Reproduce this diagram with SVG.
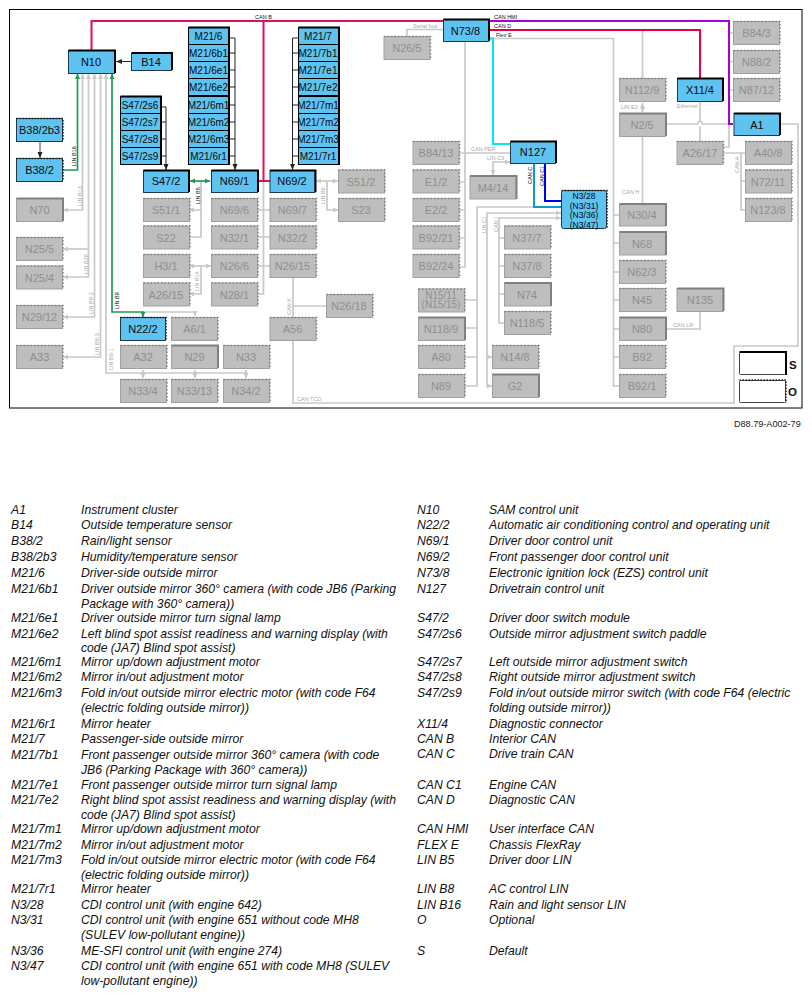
<svg xmlns="http://www.w3.org/2000/svg" width="812" height="996" viewBox="0 0 812 996">
<style>
text{font-family:"Liberation Sans",Arial,sans-serif}
.node text{font-size:11px;text-anchor:middle}
.node path{fill:none}
.b rect{fill:#5fc3f1;stroke:#1d3a4a;stroke-width:1}
.b text{fill:#0a0a0a}
.g rect{fill:#bebebe;stroke:#a0a0a0;stroke-width:1}
.g text{fill:#8e8e8e}
.b.s path{stroke:#000;stroke-width:2}
.b.o path{stroke:#222;stroke-width:1.6;stroke-dasharray:1.5 1.5}
.g.s path{stroke:#808080;stroke-width:2}
.g.o path{stroke:#858585;stroke-width:1.5;stroke-dasharray:1.5 2}
.node.m text{font-size:10px}
.node.n text{font-size:8.6px}
.b.m rect{stroke:#000}
.c{fill:none;stroke:#c9c9c9;stroke-width:1.7}
.k{fill:none;stroke:#222;stroke-width:1}
.lg{fill:none;stroke:#1f9a55;stroke-width:1.7}
.bus{fill:none;stroke-width:2}
.l{font-size:5.5px;fill:#a8a8a8}
.lb{font-size:5.5px;fill:#111}
.t{font-size:12.2px;font-style:italic;fill:#111}
</style>
<defs>
<marker id="ag" markerUnits="userSpaceOnUse" markerWidth="6" markerHeight="6" refX="5" refY="3" orient="auto-start-reverse"><path d="M0 .5L5 3L0 5.5z" fill="#c9c9c9"/></marker>
<marker id="ak" markerUnits="userSpaceOnUse" markerWidth="7" markerHeight="6" refX="6" refY="3" orient="auto-start-reverse"><path d="M0 .5L6 3L0 5.5z" fill="#222"/></marker>
<marker id="ae" markerUnits="userSpaceOnUse" markerWidth="6" markerHeight="6" refX="5" refY="3" orient="auto-start-reverse"><path d="M0 .5L5 3L0 5.5z" fill="#1f9a55"/></marker>
</defs>
<rect x="9.5" y="9.5" width="792.5" height="398.5" fill="#fff" stroke="#000" stroke-width="1"/>
<g id="connectors">
<g class="c">
<path d="M407 36V29.5H443"/>
<path d="M465 42V267H459M459 153H510M459 182H465M459 210H465M459 238H465"/>
<path d="M510 162H493V175" marker-start="url(#ag)" marker-end="url(#ag)"/>
<path d="M561 207H477V386H465M465 300H477M465 328H477M465 357H477"/>
<path d="M561 213H487V386H492" marker-start="url(#ag)" marker-end="url(#ag)"/>
<path d="M487 357H492" marker-end="url(#ag)"/>
<path d="M561 218H499V323H504M499 238H504M499 266H504M499 294H504" marker-start="url(#ag)"/>
<path d="M489 38.500H613.500V386H619M613.500 215H619M613.500 243H619M613.500 272H619M613.500 300H619M613.500 329H619M613.500 357H619"/>
<path d="M642.500 30V78M642.500 136V204"/>
<path d="M642.500 103V112" marker-start="url(#ag)" marker-end="url(#ag)"/>
<path d="M665 124H697.500A2.500 2.500 0 0 1 702.500 124H733"/>
<path d="M700 102V121.500M700 126.500V141"/>
<path d="M729 124V147H723M729 33H733M729 61.500H733M729 90H733"/>
<path d="M723 153H745M741 153V210H745M741 181H745"/>
<path d="M780 124H798V346H734V403H293V340M293 278V317M293 306H326"/>
<path d="M665 329H700V312"/>
<path d="M263.500 181V294H258M258 210H270M258 237H270M258 266H270"/>
<path d="M201 181V237H189M201 210H189" marker-end="url(#ag)"/>
<path d="M189 266H211" marker-start="url(#ag)" marker-end="url(#ag)"/>
<path d="M201 266V294H189" marker-end="url(#ag)"/>
<path d="M316 181H338" marker-start="url(#ag)" marker-end="url(#ag)"/>
<path d="M327 181V210H338" marker-end="url(#ag)"/>
<path d="M82.500 74V210H63" marker-start="url(#ag)" marker-end="url(#ag)"/>
<path d="M88.500 74V277H63" marker-start="url(#ag)" marker-end="url(#ag)"/>
<path d="M88.500 249H63" marker-end="url(#ag)"/>
<path d="M94.500 74V317H63" marker-start="url(#ag)" marker-end="url(#ag)"/>
<path d="M100.500 74V357H63" marker-start="url(#ag)" marker-end="url(#ag)"/>
<path d="M106 74V373H246" marker-start="url(#ag)"/>
<path d="M143 370V378" marker-start="url(#ag)" marker-end="url(#ag)"/>
<path d="M195 370V378" marker-start="url(#ag)" marker-end="url(#ag)"/>
<path d="M246 370V378" marker-start="url(#ag)" marker-end="url(#ag)"/>
<path d="M143 312H195V316" marker-end="url(#ag)"/>
</g>
<path class="bus" d="M91.500 50V21H443M263.500 21V181M258 181H270" stroke="#e2105c"/>
<path class="bus" d="M489 21H729V124H733" stroke="#a200dc"/>
<path class="bus" d="M489 30H700V78" stroke="#e8003f"/>
<path class="bus" d="M489 38.500H493V144H510" stroke="#00e6ee"/>
<path class="bus" d="M534 164V207H561" stroke="#0a9bc8"/>
<path class="bus" d="M545 164V201H561" stroke="#0000f0"/>
<path class="lg" d="M63 170H77.500V74" marker-end="url(#ae)"/>
<path class="lg" d="M112 74V312H143V317" marker-start="url(#ae)" marker-end="url(#ae)"/>
<path class="lg" d="M190 181H210" marker-start="url(#ae)" marker-end="url(#ae)"/>
<path class="k" d="M131 61.500H116" marker-end="url(#ak)"/>
<path d="M40 142V158" fill="none" stroke="#444" stroke-width="1" marker-end="url(#ak)"/>
<path class="k" d="M161 107H166V170" marker-end="url(#ak)"/>
<path class="k" d="M161 122H166M161 139H166M161 156H166"/>
<path class="k" d="M229 38H235V170" marker-end="url(#ak)"/>
<path class="k" d="M229 53H235M229 70H235M229 87H235M229 105H235M229 122H235M229 139H235M229 156H235"/>
<path class="k" d="M298 38H292.500V170" marker-end="url(#ak)"/>
<path class="k" d="M298 53H292.500M298 70H292.500M298 87H292.500M298 105H292.500M298 122H292.500M298 139H292.500M298 156H292.500"/>
<text class="lb" x="255" y="18.500">CAN B</text>
<text class="l" x="413" y="27.500">Serial bus</text>
<text class="lb" x="494" y="19">CAN HMI</text>
<text class="lb" x="494" y="28">CAN D</text>
<text class="lb" x="496" y="36.500">Flex E</text>
<text class="l" x="621" y="109">LIN E2</text>
<text class="l" x="677" y="108">Ethernet</text>
<text class="l" x="622" y="194">CAN H</text>
<text class="l" x="673" y="327">CAN LR</text>
<text class="l" x="297" y="400.500">CAN TCO</text>
<text class="l" x="471" y="151">CAN PER</text>
<text class="l" x="487" y="159.500">LIN C3</text>
<text class="lb" transform="rotate(-90 76 166)" x="76" y="166">LIN B16</text>
<text class="l" transform="rotate(-90 81.500 206)" x="81.500" y="206">LIN B13</text>
<text class="l" transform="rotate(-90 88 274)" x="88" y="274">LIN B28</text>
<text class="l" transform="rotate(-90 93 314)" x="93" y="314">LIN B8-2</text>
<text class="l" transform="rotate(-90 99 355)" x="99" y="355">LIN B8-3</text>
<text class="l" transform="rotate(-90 112.500 370)" x="112.500" y="370">LIN B8-1</text>
<text class="lb" transform="rotate(-90 119 309)" x="119" y="309">LIN B8</text>
<text class="lb" transform="rotate(-90 200 204)" x="200" y="204">LIN B5</text>
<text class="l" transform="rotate(-90 199 291)" x="199" y="291">LIN B14</text>
<text class="l" transform="rotate(-90 325 204)" x="325" y="204">LIN B6</text>
<text class="l" transform="rotate(-90 291 315)" x="291" y="315">CAN K</text>
<text class="lb" transform="rotate(-90 532 184)" x="532" y="184">CAN C</text>
<text class="lb" transform="rotate(-90 543.500 186)" x="543.500" y="186">CAN C1</text>
<text class="l" transform="rotate(-90 486 233)" x="486" y="233">LIN C1</text>
<text class="l" transform="rotate(-90 498 232)" x="498" y="232">CAN I</text>
<text class="l" transform="rotate(-90 739 173)" x="739" y="173">CAN A</text>
</g>
<g id="N10" class="node b s"><rect x="68.500" y="50.500" width="46" height="23"/><path d="M68.500 50.500H115V73"/><text x="91" y="66">N10</text></g>
<g id="B14" class="node b s"><rect x="131.500" y="53.500" width="40" height="17"/><path d="M131.500 53H172V70"/><text x="151" y="66">B14</text></g>
<g id="B38-2b3" class="node b o"><rect x="16.500" y="118.500" width="46" height="23"/><path d="M16.500 118.500H63V141"/><text x="39.500" y="134">B38/2b3</text></g>
<g id="B38-2" class="node b o"><rect x="16.500" y="158.500" width="46" height="23"/><path d="M16.500 158.500H63V181"/><text x="39.500" y="174">B38/2</text></g>
<g id="M21-6" class="node b s m"><rect x="188.500" y="27.500" width="40" height="17"/><path d="M188.500 27.500H229V44"/><text x="208.500" y="40">M21/6</text></g>
<g id="M21-6b1" class="node b s m"><rect x="188.500" y="44.500" width="40" height="17"/><path d="M229 44V61"/><text x="208.500" y="57">M21/6b1</text></g>
<g id="M21-6e1" class="node b s m"><rect x="188.500" y="61.500" width="40" height="17"/><path d="M229 61V79"/><text x="208.500" y="74">M21/6e1</text></g>
<g id="M21-6e2" class="node b s m"><rect x="188.500" y="78.500" width="40" height="17"/><path d="M229 79V96"/><text x="208.500" y="91">M21/6e2</text></g>
<g id="M21-6m1" class="node b s m"><rect x="188.500" y="96.500" width="40" height="17"/><path d="M229 96V113"/><text x="208.500" y="109">M21/6m1</text></g>
<g id="M21-6m2" class="node b s m"><rect x="188.500" y="113.500" width="40" height="17"/><path d="M229 113V131"/><text x="208.500" y="126">M21/6m2</text></g>
<g id="M21-6m3" class="node b s m"><rect x="188.500" y="130.500" width="40" height="17"/><path d="M229 131V148"/><text x="208.500" y="143">M21/6m3</text></g>
<g id="M21-6r1" class="node b s m"><rect x="188.500" y="147.500" width="40" height="17"/><path d="M229 148V165"/><text x="208.500" y="160">M21/6r1</text></g>
<g id="M21-7" class="node b s m"><rect x="298.500" y="27.500" width="40" height="17"/><path d="M298.500 27.500H339V44"/><text x="318" y="40">M21/7</text></g>
<g id="M21-7b1" class="node b s m"><rect x="298.500" y="44.500" width="40" height="17"/><path d="M339 44V61"/><text x="318" y="57">M21/7b1</text></g>
<g id="M21-7e1" class="node b s m"><rect x="298.500" y="61.500" width="40" height="17"/><path d="M339 61V79"/><text x="318" y="74">M21/7e1</text></g>
<g id="M21-7e2" class="node b s m"><rect x="298.500" y="78.500" width="40" height="17"/><path d="M339 79V96"/><text x="318" y="91">M21/7e2</text></g>
<g id="M21-7m1" class="node b s m"><rect x="298.500" y="96.500" width="40" height="17"/><path d="M339 96V113"/><text x="318" y="109">M21/7m1</text></g>
<g id="M21-7m2" class="node b s m"><rect x="298.500" y="113.500" width="40" height="17"/><path d="M339 113V131"/><text x="318" y="126">M21/7m2</text></g>
<g id="M21-7m3" class="node b s m"><rect x="298.500" y="130.500" width="40" height="17"/><path d="M339 131V148"/><text x="318" y="143">M21/7m3</text></g>
<g id="M21-7r1" class="node b s m"><rect x="298.500" y="147.500" width="40" height="17"/><path d="M339 148V165"/><text x="318" y="160">M21/7r1</text></g>
<g id="S47-2s6" class="node b s m"><rect x="120.500" y="96.500" width="40" height="17"/><path d="M120.500 96.500H161V113"/><text x="140" y="109">S47/2s6</text></g>
<g id="S47-2s7" class="node b s m"><rect x="120.500" y="113.500" width="40" height="17"/><path d="M161 113V131"/><text x="140" y="126">S47/2s7</text></g>
<g id="S47-2s8" class="node b s m"><rect x="120.500" y="130.500" width="40" height="17"/><path d="M161 131V148"/><text x="140" y="143">S47/2s8</text></g>
<g id="S47-2s9" class="node b s m"><rect x="120.500" y="147.500" width="40" height="17"/><path d="M161 148V165"/><text x="140" y="160">S47/2s9</text></g>
<g id="S47-2" class="node b s"><rect x="143.500" y="170.500" width="45" height="22"/><path d="M143.500 170.500H189V192"/><text x="166" y="185">S47/2</text></g>
<g id="N69-1" class="node b s"><rect x="211.500" y="170.500" width="46" height="22"/><path d="M211.500 170.500H258V192"/><text x="234.500" y="185">N69/1</text></g>
<g id="N69-2" class="node b s"><rect x="270" y="170.500" width="45" height="22"/><path d="M270 170.500H315.500V192"/><text x="292" y="185">N69/2</text></g>
<g id="N73-8" class="node b s"><rect x="443.500" y="19.500" width="45" height="22"/><path d="M443.500 19.500H489V41"/><text x="465.500" y="34.500">N73/8</text></g>
<g id="N127" class="node b s"><rect x="510.500" y="141.500" width="45" height="22"/><path d="M510.500 141.500H556V163"/><text x="533" y="156">N127</text></g>
<g id="X11-4" class="node b s"><rect x="677.500" y="78.500" width="45" height="23"/><path d="M677.500 78.500H723V101"/><text x="700" y="94">X11/4</text></g>
<g id="A1" class="node b s"><rect x="734" y="113.500" width="45.500" height="22"/><path d="M734 113.500H780V135"/><text x="757" y="128.500">A1</text></g>
<g id="N3-28" class="node b o n"><rect x="561.500" y="190.500" width="45" height="38" rx="2"/><path d="M561.500 190.500H607V228"/><text x="584" y="199">N3/28</text><text x="584" y="208.500">(N3/31)</text><text x="584" y="218">(N3/36)</text><text x="584" y="227.500">(N3/47)</text></g>
<g id="N22-2" class="node b o"><rect x="120.500" y="317.500" width="45" height="23"/><path d="M120.500 317.500H166V340"/><text x="143" y="333">N22/2</text></g>
<g id="B84-3" class="node g o"><rect x="733.500" y="21.500" width="46" height="23"/><path d="M733.500 21.500H780V44"/><text x="756.500" y="37">B84/3</text></g>
<g id="N88-2" class="node g o"><rect x="733.500" y="50.500" width="46" height="23"/><path d="M733.500 50.500H780V73"/><text x="756.500" y="66">N88/2</text></g>
<g id="N87-12" class="node g o"><rect x="733.500" y="78.500" width="46" height="23"/><path d="M733.500 78.500H780V101"/><text x="756.500" y="94">N87/12</text></g>
<g id="N26-5" class="node g o"><rect x="384" y="36.500" width="46" height="23"/><path d="M384 36.500H430.500V59"/><text x="407" y="52">N26/5</text></g>
<g id="N112-9" class="node g o"><rect x="619.500" y="78.500" width="46" height="23"/><path d="M619.500 78.500H666V101"/><text x="642" y="94">N112/9</text></g>
<g id="N2-5" class="node g s"><rect x="619.500" y="113.500" width="46" height="23"/><path d="M619.500 113.500H666V136"/><text x="642" y="129">N2/5</text></g>
<g id="A26-17" class="node g o"><rect x="677" y="141.500" width="46" height="23"/><path d="M677 141.500H723.500V164"/><text x="700" y="157">A26/17</text></g>
<g id="A40-8" class="node g o"><rect x="745.500" y="141.500" width="46" height="23"/><path d="M745.500 141.500H792V164"/><text x="768" y="157">A40/8</text></g>
<g id="N72-11" class="node g o"><rect x="745.500" y="170" width="46" height="23"/><path d="M745.500 170H792V193"/><text x="768" y="185.500">N72/11</text></g>
<g id="N123-8" class="node g o"><rect x="745.500" y="198.500" width="46" height="23"/><path d="M745.500 198.500H792V221"/><text x="768" y="214">N123/8</text></g>
<g id="N70" class="node g s"><rect x="16.500" y="198.500" width="46" height="23"/><path d="M16.500 198.500H63V221"/><text x="39.500" y="214">N70</text></g>
<g id="N25-5" class="node g o"><rect x="16.500" y="237.500" width="46" height="23"/><path d="M16.500 237.500H63V260"/><text x="39.500" y="253">N25/5</text></g>
<g id="N25-4" class="node g o"><rect x="16.500" y="266" width="46" height="23"/><path d="M16.500 266H63V289"/><text x="39.500" y="281.500">N25/4</text></g>
<g id="N29-12" class="node g o"><rect x="16.500" y="305.500" width="46" height="23"/><path d="M16.500 305.500H63V328"/><text x="39.500" y="321">N29/12</text></g>
<g id="A33" class="node g o"><rect x="16.500" y="345.500" width="46" height="23"/><path d="M16.500 345.500H63V368"/><text x="39.500" y="361">A33</text></g>
<g id="S51-1" class="node g o"><rect x="143.500" y="198.500" width="46" height="23"/><path d="M143.500 198.500H190V221"/><text x="166" y="214">S51/1</text></g>
<g id="S22" class="node g o"><rect x="143.500" y="226" width="46" height="23"/><path d="M143.500 226H190V249"/><text x="166" y="241.500">S22</text></g>
<g id="H3-1" class="node g o"><rect x="143.500" y="254.500" width="46" height="23"/><path d="M143.500 254.500H190V277"/><text x="166" y="270">H3/1</text></g>
<g id="A26-15" class="node g o"><rect x="143.500" y="283" width="46" height="23"/><path d="M143.500 283H190V306"/><text x="166" y="298.500">A26/15</text></g>
<g id="N69-6" class="node g o"><rect x="211.500" y="198.500" width="46" height="23"/><path d="M211.500 198.500H258V221"/><text x="234.500" y="214">N69/6</text></g>
<g id="N32-1" class="node g o"><rect x="211.500" y="226" width="46" height="23"/><path d="M211.500 226H258V249"/><text x="234.500" y="241.500">N32/1</text></g>
<g id="N26-6" class="node g o"><rect x="211.500" y="254.500" width="46" height="23"/><path d="M211.500 254.500H258V277"/><text x="234.500" y="270">N26/6</text></g>
<g id="N28-1" class="node g o"><rect x="211.500" y="283" width="46" height="23"/><path d="M211.500 283H258V306"/><text x="234.500" y="298.500">N28/1</text></g>
<g id="N69-7" class="node g o"><rect x="270" y="198.500" width="46" height="23"/><path d="M270 198.500H316.500V221"/><text x="292.500" y="214">N69/7</text></g>
<g id="N32-2" class="node g o"><rect x="270" y="226" width="46" height="23"/><path d="M270 226H316.500V249"/><text x="292.500" y="241.500">N32/2</text></g>
<g id="N26-15" class="node g o"><rect x="270" y="254.500" width="46" height="23"/><path d="M270 254.500H316.500V277"/><text x="292.500" y="270">N26/15</text></g>
<g id="S51-2" class="node g o"><rect x="338.500" y="170" width="46" height="23"/><path d="M338.500 170H385V193"/><text x="361" y="185.500">S51/2</text></g>
<g id="S23" class="node g o"><rect x="338.500" y="198.500" width="46" height="23"/><path d="M338.500 198.500H385V221"/><text x="361" y="214">S23</text></g>
<g id="N26-18" class="node g o"><rect x="326.500" y="294.500" width="46" height="23"/><path d="M326.500 294.500H373V317"/><text x="349" y="310">N26/18</text></g>
<g id="A56" class="node g o"><rect x="270" y="317.500" width="46" height="23"/><path d="M270 317.500H316.500V340"/><text x="292.500" y="333">A56</text></g>
<g id="A6-1" class="node g o"><rect x="171.500" y="317.500" width="46" height="23"/><path d="M171.500 317.500H218V340"/><text x="194.500" y="333">A6/1</text></g>
<g id="A32" class="node g o"><rect x="120.500" y="345.500" width="46" height="23"/><path d="M120.500 345.500H167V368"/><text x="143" y="361">A32</text></g>
<g id="N29" class="node g s"><rect x="171.500" y="345.500" width="46" height="23"/><path d="M171.500 345.500H218V368"/><text x="194.500" y="361">N29</text></g>
<g id="N33" class="node g o"><rect x="223.500" y="345.500" width="46" height="23"/><path d="M223.500 345.500H270V368"/><text x="246" y="361">N33</text></g>
<g id="N33-4" class="node g o"><rect x="120.500" y="379.500" width="46" height="23"/><path d="M120.500 379.500H167V402"/><text x="143" y="395">N33/4</text></g>
<g id="N33-13" class="node g o"><rect x="171.500" y="379.500" width="46" height="23"/><path d="M171.500 379.500H218V402"/><text x="194.500" y="395">N33/13</text></g>
<g id="N34-2" class="node g o"><rect x="223.500" y="379.500" width="46" height="23"/><path d="M223.500 379.500H270V402"/><text x="246" y="395">N34/2</text></g>
<g id="B84-13" class="node g o"><rect x="413" y="141.500" width="46" height="23"/><path d="M413 141.500H459.500V164"/><text x="436" y="157">B84/13</text></g>
<g id="E1-2" class="node g o"><rect x="413" y="170" width="46" height="23"/><path d="M413 170H459.500V193"/><text x="436" y="185.500">E1/2</text></g>
<g id="E2-2" class="node g o"><rect x="413" y="198.500" width="46" height="23"/><path d="M413 198.500H459.500V221"/><text x="436" y="214">E2/2</text></g>
<g id="B92-21" class="node g o"><rect x="413" y="226" width="46" height="23"/><path d="M413 226H459.500V249"/><text x="436" y="241.500">B92/21</text></g>
<g id="B92-24" class="node g o"><rect x="413" y="254.500" width="46" height="23"/><path d="M413 254.500H459.500V277"/><text x="436" y="270">B92/24</text></g>
<g id="M4-14" class="node g s"><rect x="470" y="176" width="46" height="23"/><path d="M470 176H516.500V199"/><text x="493" y="191.500">M4/14</text></g>
<g id="N15-11" class="node g o m"><rect x="418.500" y="289" width="46" height="23"/><path d="M418.500 289H465V312"/><text y="299"><tspan x="441">N15/11</tspan><tspan x="441" dy="9">(N15/15)</tspan></text></g>
<g id="N118-9" class="node g s"><rect x="418.500" y="317.500" width="46" height="23"/><path d="M418.500 317.500H465V340"/><text x="441" y="333">N118/9</text></g>
<g id="A80" class="node g o"><rect x="418.500" y="345.500" width="46" height="23"/><path d="M418.500 345.500H465V368"/><text x="441" y="361">A80</text></g>
<g id="N89" class="node g o"><rect x="418.500" y="374.500" width="46" height="23"/><path d="M418.500 374.500H465V397"/><text x="441" y="390">N89</text></g>
<g id="N14-8" class="node g o"><rect x="492.500" y="345.500" width="46" height="23"/><path d="M492.500 345.500H539V368"/><text x="515" y="361">N14/8</text></g>
<g id="G2" class="node g s"><rect x="492.500" y="374.500" width="46" height="23"/><path d="M492.500 374.500H539V397"/><text x="515" y="390">G2</text></g>
<g id="N37-7" class="node g o"><rect x="504.500" y="226" width="46" height="23"/><path d="M504.500 226H551V249"/><text x="527" y="241.500">N37/7</text></g>
<g id="N37-8" class="node g o"><rect x="504.500" y="254.500" width="46" height="23"/><path d="M504.500 254.500H551V277"/><text x="527" y="270">N37/8</text></g>
<g id="N74" class="node g s"><rect x="504.500" y="283" width="46" height="23"/><path d="M504.500 283H551V306"/><text x="527" y="298.500">N74</text></g>
<g id="N118-5" class="node g o"><rect x="504.500" y="311.500" width="46" height="23"/><path d="M504.500 311.500H551V334"/><text x="527" y="327">N118/5</text></g>
<g id="N30-4" class="node g s"><rect x="619.500" y="204" width="46" height="22"/><path d="M619.500 204H666V226"/><text x="642" y="219">N30/4</text></g>
<g id="N68" class="node g s"><rect x="619.500" y="232" width="46" height="23"/><path d="M619.500 232H666V255"/><text x="642" y="247.500">N68</text></g>
<g id="N62-3" class="node g o"><rect x="619.500" y="260.500" width="46" height="23"/><path d="M619.500 260.500H666V283"/><text x="642" y="276">N62/3</text></g>
<g id="N45" class="node g o"><rect x="619.500" y="288.500" width="46" height="23"/><path d="M619.500 288.500H666V311"/><text x="642" y="304">N45</text></g>
<g id="N80" class="node g s"><rect x="619.500" y="317.500" width="46" height="23"/><path d="M619.500 317.500H666V340"/><text x="642" y="333">N80</text></g>
<g id="B92" class="node g o"><rect x="619.500" y="345.500" width="46" height="23"/><path d="M619.500 345.500H666V368"/><text x="642" y="361">B92</text></g>
<g id="B92-1" class="node g o"><rect x="619.500" y="374.500" width="46" height="23"/><path d="M619.500 374.500H666V397"/><text x="642" y="390">B92/1</text></g>
<g id="N135" class="node g s"><rect x="677" y="288.500" width="46" height="23"/><path d="M677 288.500H723.500V311"/><text x="700" y="304">N135</text></g>
<g id="key-S"><rect x="739.500" y="352.500" width="46" height="22" rx="1" fill="#fff" stroke="#444"/><path d="M739.500 352H786V375" fill="none" stroke="#000" stroke-width="2"/><text x="789" y="369" font-size="11.500" font-weight="700" fill="#111">S</text></g>
<g id="key-O"><rect x="739.500" y="380.500" width="46" height="22" rx="1" fill="#fff" stroke="#444"/><path d="M739.500 380H786V403" fill="none" stroke="#222" stroke-width="1.500" stroke-dasharray="1.500 1.500"/><text x="788" y="396" font-size="11.500" font-weight="700" fill="#111">O</text></g>
<text x="734" y="427" font-size="9.100" fill="#222">D88.79-A002-79</text>
<g id="legend-left" class="t">
<text x="11" y="513.500">A1</text><text x="81" y="513.500">Instrument cluster</text>
<text x="11" y="528.500">B14</text><text x="81" y="528.500">Outside temperature sensor</text>
<text x="11" y="545">B38/2</text><text x="81" y="545">Rain/light sensor</text>
<text x="11" y="560.500">B38/2b3</text><text x="81" y="560.500">Humidity/temperature sensor</text>
<text x="11" y="576.500">M21/6</text><text x="81" y="576.500">Driver-side outside mirror</text>
<text x="11" y="592.500">M21/6b1</text><text x="81" y="592.500">Driver outside mirror 360° camera (with code JB6 (Parking</text>
<text x="81" y="607.500">Package with 360° camera))</text>
<text x="11" y="622">M21/6e1</text><text x="81" y="622">Driver outside mirror turn signal lamp</text>
<text x="11" y="637.500">M21/6e2</text><text x="81" y="637.500">Left blind spot assist readiness and warning display (with</text>
<text x="81" y="652">code (JA7) Blind spot assist)</text>
<text x="11" y="666">M21/6m1</text><text x="81" y="666">Mirror up/down adjustment motor</text>
<text x="11" y="681">M21/6m2</text><text x="81" y="681">Mirror in/out adjustment motor</text>
<text x="11" y="697">M21/6m3</text><text x="81" y="697">Fold in/out outside mirror electric motor (with code F64</text>
<text x="81" y="712">(electric folding outside mirror))</text>
<text x="11" y="727.500">M21/6r1</text><text x="81" y="727.500">Mirror heater</text>
<text x="11" y="743">M21/7</text><text x="81" y="743">Passenger-side outside mirror</text>
<text x="11" y="758.500">M21/7b1</text><text x="81" y="758.500">Front passenger outside mirror 360° camera (with code</text>
<text x="81" y="774">JB6 (Parking Package with 360° camera))</text>
<text x="11" y="789">M21/7e1</text><text x="81" y="789">Front passenger outside mirror turn signal lamp</text>
<text x="11" y="804">M21/7e2</text><text x="81" y="804">Right blind spot assist readiness and warning display (with</text>
<text x="81" y="819">code (JA7) Blind spot assist)</text>
<text x="11" y="833">M21/7m1</text><text x="81" y="833">Mirror up/down adjustment motor</text>
<text x="11" y="849">M21/7m2</text><text x="81" y="849">Mirror in/out adjustment motor</text>
<text x="11" y="864">M21/7m3</text><text x="81" y="864">Fold in/out outside mirror electric motor (with code F64</text>
<text x="81" y="879">(electric folding outside mirror))</text>
<text x="11" y="893">M21/7r1</text><text x="81" y="893">Mirror heater</text>
<text x="11" y="909">N3/28</text><text x="81" y="909">CDI control unit (with engine 642)</text>
<text x="11" y="924">N3/31</text><text x="81" y="924">CDI control unit (with engine 651 without code MH8</text>
<text x="81" y="939">(SULEV low-pollutant engine))</text>
<text x="11" y="955">N3/36</text><text x="81" y="955">ME-SFI control unit (with engine 274)</text>
<text x="11" y="970">N3/47</text><text x="81" y="970">CDI control unit (with engine 651 with code MH8 (SULEV</text>
<text x="81" y="985">low-pollutant engine))</text>
</g>
<g id="legend-right" class="t">
<text x="417" y="513.500">N10</text><text x="489" y="513.500">SAM control unit</text>
<text x="417" y="528.500">N22/2</text><text x="489" y="528.500">Automatic air conditioning control and operating unit</text>
<text x="417" y="545">N69/1</text><text x="489" y="545">Driver door control unit</text>
<text x="417" y="560.500">N69/2</text><text x="489" y="560.500">Front passenger door control unit</text>
<text x="417" y="576.500">N73/8</text><text x="489" y="576.500">Electronic ignition lock (EZS) control unit</text>
<text x="417" y="592.500">N127</text><text x="489" y="592.500">Drivetrain control unit</text>
<text x="417" y="622">S47/2</text><text x="489" y="622">Driver door switch module</text>
<text x="417" y="637.500">S47/2s6</text><text x="489" y="637.500">Outside mirror adjustment switch paddle</text>
<text x="417" y="666">S47/2s7</text><text x="489" y="666">Left outside mirror adjustment switch</text>
<text x="417" y="681">S47/2s8</text><text x="489" y="681">Right outside mirror adjustment switch</text>
<text x="417" y="697">S47/2s9</text><text x="489" y="697">Fold in/out outside mirror switch (with code F64 (electric</text>
<text x="489" y="712">folding outside mirror))</text>
<text x="417" y="728">X11/4</text><text x="489" y="728">Diagnostic connector</text>
<text x="417" y="743">CAN B</text><text x="489" y="743">Interior CAN</text>
<text x="417" y="758">CAN C</text><text x="489" y="758">Drive train CAN</text>
<text x="417" y="789">CAN C1</text><text x="489" y="789">Engine CAN</text>
<text x="417" y="804">CAN D</text><text x="489" y="804">Diagnostic CAN</text>
<text x="417" y="833">CAN HMI</text><text x="489" y="833">User interface CAN</text>
<text x="417" y="849">FLEX E</text><text x="489" y="849">Chassis FlexRay</text>
<text x="417" y="864">LIN B5</text><text x="489" y="864">Driver door LIN</text>
<text x="417" y="893">LIN B8</text><text x="489" y="893">AC control LIN</text>
<text x="417" y="909">LIN B16</text><text x="489" y="909">Rain and light sensor LIN</text>
<text x="417" y="924">O</text><text x="489" y="924">Optional</text>
<text x="417" y="955">S</text><text x="489" y="955">Default</text>
</g>
</svg>
